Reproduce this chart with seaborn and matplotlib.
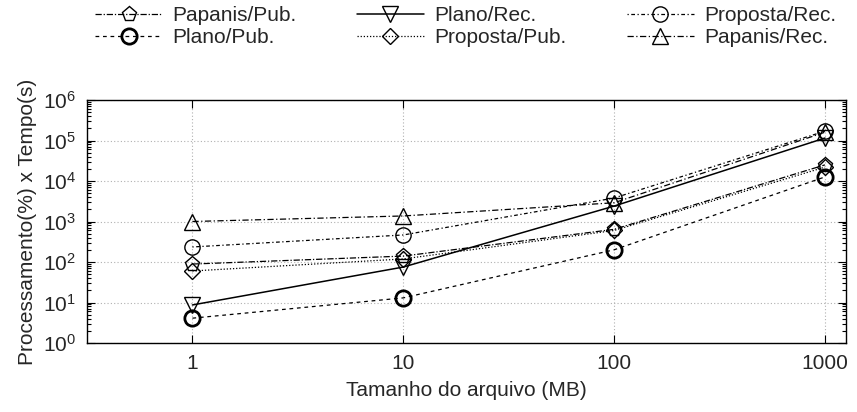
import matplotlib
matplotlib.use("Agg")
import matplotlib.pyplot as plt
import seaborn as sns
import numpy as np
import pandas as pd
from matplotlib.ticker import LogLocator, NullFormatter, FixedLocator

sizes = [1, 10, 100, 1000]
papanis_pub = [89, 140, 640, 25000]
plano_pub = [4.1, 13, 200, 12600]
plano_rec = [8.7, 75, 2400, 115000]
proposta_pub = [60, 119, 600, 22000]
proposta_rec = [235, 465, 3800, 170000]
papanis_rec = [1000, 1370, 2900, 160000]

series_names = ["Papanis/Pub.", "Plano/Pub.", "Plano/Rec.",
                "Proposta/Pub.", "Proposta/Rec.", "Papanis/Rec."]
series_vals = [papanis_pub, plano_pub, plano_rec,
               proposta_pub, proposta_rec, papanis_rec]

rows = []
for n, v in zip(series_names, series_vals):
    for s, y in zip(sizes, v):
        rows.append({"serie": n, "size": s, "valor": y})
df = pd.DataFrame(rows)

sns.set_style("ticks")
plt.rcParams['font.family'] = ['Liberation Sans', 'DejaVu Sans']
plt.rcParams['mathtext.fontset'] = 'custom'
plt.rcParams['mathtext.rm'] = 'Liberation Sans'

styles = {
    "Papanis/Pub.": dict(marker="p", dashes=(5, 1.5, 1, 1.5), mew=1.0, lw=0.9),
    "Plano/Pub.": dict(marker="o", dashes=(3, 3), mew=2.0, lw=0.9),
    "Plano/Rec.": dict(marker="v", dashes=(None), mew=1.0, lw=1.1),
    "Proposta/Pub.": dict(marker="D", dashes=(1, 1.5), mew=1.0, lw=0.9, ms=8),
    "Proposta/Rec.": dict(marker="o", dashes=(1, 2, 3, 2), mew=1.0, lw=0.9),
    "Papanis/Rec.": dict(marker="^", dashes=(5, 2, 1, 2), mew=1.0, lw=0.9),
}

fig = plt.figure(figsize=(8.57, 4.12), dpi=100)
ax = fig.add_axes([87/857, 1-343/412, (846-87)/857, (343-100)/412])

for n in series_names:
    st = styles[n]
    sub = df[df["serie"] == n]
    kw = dict(color="black", lw=st["lw"], marker=st["marker"],
              markersize=st.get("ms", 11), markerfacecolor="none",
              markeredgecolor="black", markeredgewidth=st["mew"])
    sns.lineplot(data=sub, x="size", y="valor", ax=ax, label=n, **kw)
    line = ax.get_lines()[-1]
    if st["dashes"] is not None:
        line.set_dashes(st["dashes"])

ax.set_xscale("log")
ax.set_yscale("log")
ax.set_xlim(10**-0.5, 10**3.1)
ax.set_ylim(1, 1e6)
ax.xaxis.set_major_locator(FixedLocator(sizes))
ax.set_xticklabels([str(s) for s in sizes])
ax.xaxis.set_minor_locator(FixedLocator([]))
ax.yaxis.set_major_locator(LogLocator(base=10, numticks=10))
ax.yaxis.set_minor_locator(LogLocator(base=10, subs=np.arange(2, 10), numticks=20))
ax.yaxis.set_minor_formatter(NullFormatter())
ax.tick_params(which="both", direction="in", top=True, right=True, labelsize=15, color="black")
ax.tick_params(which="major", length=6, width=0.8, pad=8)
ax.tick_params(which="minor", length=3, width=0.8)
ax.grid(True, which="major", color="#b0b0b0", linestyle=(0, (1, 2)), linewidth=0.8)
for sp in ax.spines.values():
    sp.set_color("black")
    sp.set_linewidth(1.0)
ax.set_xlabel("Tamanho do arquivo (MB)", fontsize=15, labelpad=6)
ax.set_ylabel("Processamento(%) x Tempo(s)", fontsize=15, labelpad=4)

leg = ax.legend(loc="upper left", bbox_to_anchor=(0.0, 1.42), ncol=3, frameon=False,
                fontsize=15, handlelength=3.2, handletextpad=0.5, columnspacing=2.9,
                labelspacing=0.15, borderaxespad=0)

fig.savefig("out.png", dpi=100)
